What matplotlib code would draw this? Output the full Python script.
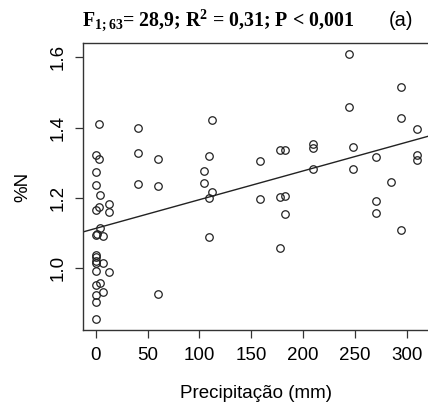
import matplotlib
matplotlib.use("Agg")
import matplotlib.pyplot as plt
import numpy as np

plt.rcParams['font.family'] = ['Liberation Sans', 'DejaVu Sans']
plt.rcParams['mathtext.fontset'] = 'custom'
plt.rcParams['mathtext.rm'] = 'Liberation Serif:bold'
plt.rcParams['mathtext.it'] = 'Liberation Serif:bold'
plt.rcParams['mathtext.bf'] = 'Liberation Serif:bold'

precip = [2.9, 40.3, 0, 2.6, 40.3, 59.7, 0, 0, 40.3, 59.7, 3.9, 2.6, 0, 12.6, 12.6,
          3.9, 0, 1.5, 7.1, 0, 0, 0, 0, 7.1, 0, 12.6, 3.9, 0, 6.8, 0, 59.7, 0, 0,
          244.4, 294.5, 244.4, 111.9, 294.5, 309.5, 109.6, 178, 182.5, 209.2, 209.2,
          247.9, 158.6, 269.8, 309.5, 309.5, 104.4, 104.4, 111.9, 109.6, 209.2, 247.9,
          158.6, 178, 182.5, 284.6, 182.5, 269.8, 269.8, 294.5, 109.6, 178]
nitrogen = [1.41, 1.398, 1.322, 1.31, 1.327, 1.31, 1.275, 1.238, 1.241, 1.235, 1.207,
            1.173, 1.165, 1.183, 1.159, 1.116, 1.095, 1.097, 1.092, 1.039, 1.032, 1.022,
            1.016, 1.015, 0.992, 0.99, 0.958, 0.953, 0.934, 0.925, 0.927, 0.904, 0.855,
            1.61, 1.515, 1.459, 1.422, 1.427, 1.396, 1.32, 1.336, 1.336, 1.352, 1.343,
            1.346, 1.304, 1.315, 1.323, 1.309, 1.276, 1.242, 1.216, 1.2, 1.283, 1.282,
            1.198, 1.204, 1.206, 1.244, 1.155, 1.191, 1.157, 1.11, 1.09, 1.059]
xticks = [0, 50, 100, 150, 200, 250, 300]
yticks = [1.0, 1.2, 1.4, 1.6]

fig = plt.figure(figsize=(4.28, 4.12), dpi=100)
ax = fig.add_axes([83/428, 1-330/412, (429.5-83)/428, (330-43)/412])

x = np.array(precip)
y = np.array(nitrogen)
ax.plot(x, y, 'o', mfc='none', mec='#222222', ms=5.4, mew=0.9, ls='none')

xr = x.max() - x.min()
yr = y.max() - y.min()
xlim = (x.min() - 0.04*xr, x.max() + 0.04*xr)
ylim = (y.min() - 0.04*yr, y.max() + 0.04*yr)
ax.set_xlim(*xlim)
ax.set_ylim(*ylim)

b, a = np.polyfit(x, y, 1)
xx = np.array(xlim)
ax.plot(xx, a + b*xx, color='#222222', lw=1.0)

fs = 13.5
ax.set_xticks(xticks)
ax.set_xticklabels([str(t) for t in xticks], fontsize=fs)
ax.set_yticks(yticks)
ax.set_yticklabels([f"{t:.1f}" for t in yticks], fontsize=fs, rotation=90, va='center')
ax.tick_params(direction='out', length=6, width=0.9, color='#333333', pad=6)
for s in ax.spines.values():
    s.set_linewidth(1.0)
    s.set_color('#333333')

ax.set_xlabel('Precipitação (mm)', fontsize=fs, labelpad=15)
ax.set_ylabel('%N', fontsize=fs, labelpad=13)

fig.text(218/428, 1-21/412, r'F$_{1{;}63}$= 28,9; R$^{2}$ = 0,31; P < 0,001',
         ha='center', va='center', fontsize=14.3, fontweight='bold',
         family='Liberation Serif')
fig.text(401/428, 1-20/412, '(a)', ha='center', va='center', fontsize=14.5)

fig.savefig('out.png', dpi=100)
